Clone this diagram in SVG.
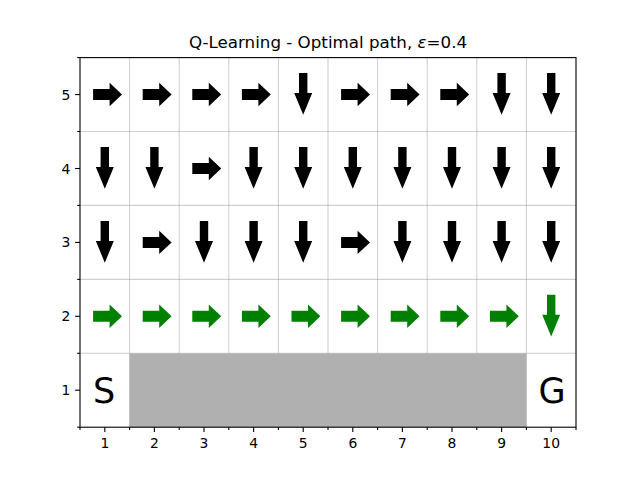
<svg xmlns="http://www.w3.org/2000/svg" xmlns:xlink="http://www.w3.org/1999/xlink" width="640" height="480" viewBox="0 0 640 480">
<style>
text{font-family:"DejaVu Sans","Liberation Sans",sans-serif;fill:#000}
.tick{font-size:13.9px}
.big{font-size:35px;text-anchor:middle}
.grid line{stroke:#b0b0b0;stroke-opacity:0.6;stroke-width:1.1}
.ticks line{stroke:#000;stroke-width:1.1}
.k{fill:#000}
.g{fill:#008000}
</style>
<defs>
<path id="R" d="M-11.7,-5.5 H4.8 V-11.7 L17.2,0 L4.8,11.7 V5.5 H-11.7 Z"/>
<path id="D" d="M-4.2,-21.5 H4.2 V-1.5 H9 L0,20.3 L-9,-1.5 H-4.2 Z"/>
</defs>
<rect width="640" height="480" fill="#fff"/>
<text x="328" y="48.3" text-anchor="middle" font-size="16.7px">Q-Learning - Optimal path, <tspan font-style="italic">ε</tspan>=0.4</text>
<rect id="wall" x="129.6" y="353.3" width="396.8" height="73.9" fill="#b0b0b0"/>
<g class="grid">
<line x1="129.6" y1="57.6" x2="129.6" y2="427.2"/>
<line x1="179.2" y1="57.6" x2="179.2" y2="427.2"/>
<line x1="228.8" y1="57.6" x2="228.8" y2="427.2"/>
<line x1="278.4" y1="57.6" x2="278.4" y2="427.2"/>
<line x1="328" y1="57.6" x2="328" y2="427.2"/>
<line x1="377.6" y1="57.6" x2="377.6" y2="427.2"/>
<line x1="427.2" y1="57.6" x2="427.2" y2="427.2"/>
<line x1="476.8" y1="57.6" x2="476.8" y2="427.2"/>
<line x1="526.4" y1="57.6" x2="526.4" y2="427.2"/>
<line x1="80" y1="131.5" x2="576" y2="131.5"/>
<line x1="80" y1="205.4" x2="576" y2="205.4"/>
<line x1="80" y1="279.4" x2="576" y2="279.4"/>
<line x1="80" y1="353.3" x2="576" y2="353.3"/>
</g>
<g id="row5" class="k">
<use xlink:href="#R" x="104.8" y="94.56"/>
<use xlink:href="#R" x="154.4" y="94.56"/>
<use xlink:href="#R" x="204" y="94.56"/>
<use xlink:href="#R" x="253.6" y="94.56"/>
<use xlink:href="#D" x="303.2" y="94.56"/>
<use xlink:href="#R" x="352.8" y="94.56"/>
<use xlink:href="#R" x="402.4" y="94.56"/>
<use xlink:href="#R" x="452" y="94.56"/>
<use xlink:href="#D" x="501.6" y="94.56"/>
<use xlink:href="#D" x="551.2" y="94.56"/>
</g>
<g id="row4" class="k">
<use xlink:href="#D" x="104.8" y="168.5"/>
<use xlink:href="#D" x="154.4" y="168.5"/>
<use xlink:href="#R" x="204" y="168.5"/>
<use xlink:href="#D" x="253.6" y="168.5"/>
<use xlink:href="#D" x="303.2" y="168.5"/>
<use xlink:href="#D" x="352.8" y="168.5"/>
<use xlink:href="#D" x="402.4" y="168.5"/>
<use xlink:href="#D" x="452" y="168.5"/>
<use xlink:href="#D" x="501.6" y="168.5"/>
<use xlink:href="#D" x="551.2" y="168.5"/>
</g>
<g id="row3" class="k">
<use xlink:href="#D" x="104.8" y="242.4"/>
<use xlink:href="#R" x="154.4" y="242.4"/>
<use xlink:href="#D" x="204" y="242.4"/>
<use xlink:href="#D" x="253.6" y="242.4"/>
<use xlink:href="#D" x="303.2" y="242.4"/>
<use xlink:href="#R" x="352.8" y="242.4"/>
<use xlink:href="#D" x="402.4" y="242.4"/>
<use xlink:href="#D" x="452" y="242.4"/>
<use xlink:href="#D" x="501.6" y="242.4"/>
<use xlink:href="#D" x="551.2" y="242.4"/>
</g>
<g id="row2" class="g">
<use xlink:href="#R" x="104.8" y="316.3"/>
<use xlink:href="#R" x="154.4" y="316.3"/>
<use xlink:href="#R" x="204" y="316.3"/>
<use xlink:href="#R" x="253.6" y="316.3"/>
<use xlink:href="#R" x="303.2" y="316.3"/>
<use xlink:href="#R" x="352.8" y="316.3"/>
<use xlink:href="#R" x="402.4" y="316.3"/>
<use xlink:href="#R" x="452" y="316.3"/>
<use xlink:href="#R" x="501.6" y="316.3"/>
<use xlink:href="#D" x="551.2" y="316.3"/>
</g>
<g id="start"><text class="big" x="104" y="402.5">S</text></g>
<g id="goal"><text class="big" x="552" y="402.5">G</text></g>
<rect x="80" y="57.6" width="496" height="369.6" fill="none" stroke="#000" stroke-width="1.1"/>
<g class="ticks">
<line x1="104.8" y1="427.2" x2="104.8" y2="432.1"/>
<line x1="154.4" y1="427.2" x2="154.4" y2="432.1"/>
<line x1="204" y1="427.2" x2="204" y2="432.1"/>
<line x1="253.6" y1="427.2" x2="253.6" y2="432.1"/>
<line x1="303.2" y1="427.2" x2="303.2" y2="432.1"/>
<line x1="352.8" y1="427.2" x2="352.8" y2="432.1"/>
<line x1="402.4" y1="427.2" x2="402.4" y2="432.1"/>
<line x1="452" y1="427.2" x2="452" y2="432.1"/>
<line x1="501.6" y1="427.2" x2="501.6" y2="432.1"/>
<line x1="551.2" y1="427.2" x2="551.2" y2="432.1"/>
<line x1="80" y1="427.2" x2="80" y2="430"/>
<line x1="129.6" y1="427.2" x2="129.6" y2="430"/>
<line x1="179.2" y1="427.2" x2="179.2" y2="430"/>
<line x1="228.8" y1="427.2" x2="228.8" y2="430"/>
<line x1="278.4" y1="427.2" x2="278.4" y2="430"/>
<line x1="328" y1="427.2" x2="328" y2="430"/>
<line x1="377.6" y1="427.2" x2="377.6" y2="430"/>
<line x1="427.2" y1="427.2" x2="427.2" y2="430"/>
<line x1="476.8" y1="427.2" x2="476.8" y2="430"/>
<line x1="526.4" y1="427.2" x2="526.4" y2="430"/>
<line x1="576" y1="427.2" x2="576" y2="430"/>
<line x1="80" y1="94.56" x2="75.1" y2="94.56"/>
<line x1="80" y1="168.5" x2="75.1" y2="168.5"/>
<line x1="80" y1="242.4" x2="75.1" y2="242.4"/>
<line x1="80" y1="316.3" x2="75.1" y2="316.3"/>
<line x1="80" y1="390.2" x2="75.1" y2="390.2"/>
<line x1="80" y1="57.6" x2="77.2" y2="57.6"/>
<line x1="80" y1="131.5" x2="77.2" y2="131.5"/>
<line x1="80" y1="205.4" x2="77.2" y2="205.4"/>
<line x1="80" y1="279.4" x2="77.2" y2="279.4"/>
<line x1="80" y1="353.3" x2="77.2" y2="353.3"/>
<line x1="80" y1="427.2" x2="77.2" y2="427.2"/>
</g>
<g class="tick" text-anchor="middle">
<text x="104.8" y="447.5">1</text>
<text x="154.4" y="447.5">2</text>
<text x="204" y="447.5">3</text>
<text x="253.6" y="447.5">4</text>
<text x="303.2" y="447.5">5</text>
<text x="352.8" y="447.5">6</text>
<text x="402.4" y="447.5">7</text>
<text x="452" y="447.5">8</text>
<text x="501.6" y="447.5">9</text>
<text x="551.2" y="447.5">10</text>
</g>
<g class="tick" text-anchor="end">
<text x="70.3" y="99.6">5</text>
<text x="70.3" y="173.5">4</text>
<text x="70.3" y="247.4">3</text>
<text x="70.3" y="321.3">2</text>
<text x="70.3" y="395.2">1</text>
</g>
</svg>
